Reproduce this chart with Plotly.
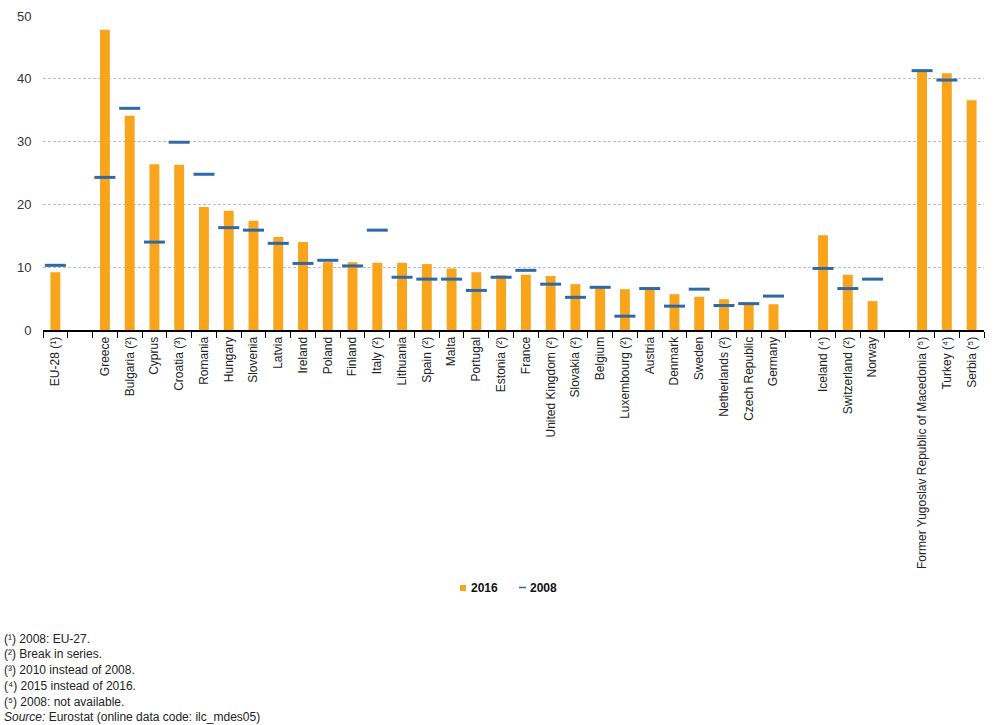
import plotly.graph_objects as go

countries = [
    "EU-28 (¹)", "Greece", "Bulgaria (²)", "Cyprus", "Croatia (³)", "Romania", "Hungary",
    "Slovenia", "Latvia", "Ireland", "Poland", "Finland", "Italy (²)", "Lithuania",
    "Spain (²)", "Malta", "Portugal", "Estonia (²)", "France", "United Kingdom (²)",
    "Slovakia (²)", "Belgium", "Luxembourg (²)", "Austria", "Denmark", "Sweden",
    "Netherlands (²)", "Czech Republic", "Germany", "Iceland (⁴)", "Switzerland (²)",
    "Norway", "Former Yugoslav Republic of Macedonia (⁵)", "Turkey (⁴)", "Serbia (⁵)",
]
values_2016 = [
    9.2, 47.8, 34.1, 26.4, 26.3, 19.6, 19.0,
    17.4, 14.8, 14.0, 10.8, 10.8, 10.7, 10.7,
    10.5, 9.8, 9.2, 8.7, 8.8, 8.6,
    7.3, 6.7, 6.5, 6.5, 5.7, 5.3,
    4.9, 4.1, 4.1, 15.1, 8.8,
    4.6, 41.2, 40.9, 36.6,
]
values_2008 = [
    10.3, 24.3, 35.3, 14.0, 29.9, 24.8, 16.3,
    15.9, 13.8, 10.6, 11.1, 10.2, 15.9, 8.4,
    8.1, 8.1, 6.3, 8.4, 9.5, 7.3,
    5.2, 6.8, 2.2, 6.6, 3.8, 6.5,
    3.9, 4.2, 5.4, 9.8, 6.6,
    8.1, 41.3, 39.8, None,
]
# category order with blank separator slots
gaps = ["_gap1", "_gap2", "_gap3"]
category_order = (
    countries[:1] + [gaps[0]] + countries[1:29] + [gaps[1]] + countries[29:32] + [gaps[2]] + countries[32:]
)
tick_labels = ["" if c in gaps else c for c in category_order]
y_ticks = [0, 10, 20, 30, 40, 50]
series_names = ["2016", "2008"]

FONT = "Liberation Sans, Arial, sans-serif"
BAR_COLOR = "#F9A51B"
LINE_COLOR = "#2F6AA7"

L, R, T, B = 43, 22, 16, 395
PW, PH = 1006 - L - R, 725 - T - B


def px_x(px):
    return (px - L) / PW


def px_y(py):
    return (725 - B - py) / PH


fig = go.Figure()
fig.add_trace(go.Bar(
    x=countries, y=values_2016, name=series_names[0],
    marker=dict(color=BAR_COLOR, line=dict(width=0)), width=0.4, showlegend=False,
))
fig.add_trace(go.Scatter(
    x=countries, y=values_2008, name=series_names[1], mode="markers", showlegend=False,
    marker=dict(symbol="line-ew", size=15, color=LINE_COLOR,
                line=dict(width=3, color=LINE_COLOR)),
))

fig.update_layout(
    width=1006, height=725,
    margin=dict(l=L, r=R, t=T, b=B, autoexpand=False),
    plot_bgcolor="white", paper_bgcolor="white",
    font=dict(family=FONT, size=12, color="#222222"),
    showlegend=False,
    bargap=0.6,
)
fig.update_xaxes(
    type="category", categoryorder="array", categoryarray=category_order,
    tickvals=category_order, ticktext=tick_labels,
    tickangle=-90, tickson="boundaries", ticks="outside", ticklen=6, tickcolor="#000000",
    showline=True, linecolor="#000000", linewidth=2, showgrid=False, automargin=False,
    tickfont=dict(size=12, color="#222222"), range=[-0.5, len(category_order) - 0.5],
)
fig.update_yaxes(
    range=[0, 50], tickvals=y_ticks, showgrid=True, gridcolor="#BDBDBD", griddash="3px,2px",
    gridwidth=1, zeroline=False, showline=False, ticks="outside", ticklen=8,
    tickcolor="rgba(0,0,0,0)", tickfont=dict(size=13, color="#333333"), automargin=False,
)

# legend (drawn manually to match compact layout)
fig.add_shape(type="rect", xref="paper", yref="paper",
              x0=px_x(460), x1=px_x(466), y0=px_y(585), y1=px_y(591),
              fillcolor=BAR_COLOR, line=dict(width=0))
fig.add_annotation(text="<b>%s</b>" % series_names[0], xref="paper", yref="paper",
                   x=px_x(469), y=px_y(588), xanchor="left", yanchor="middle",
                   showarrow=False, font=dict(size=12, color="#111111"))
fig.add_shape(type="line", xref="paper", yref="paper",
              x0=px_x(519), x1=px_x(526), y0=px_y(587.5), y1=px_y(587.5),
              line=dict(color=LINE_COLOR, width=1.5))
fig.add_annotation(text="<b>%s</b>" % series_names[1], xref="paper", yref="paper",
                   x=px_x(528), y=px_y(588), xanchor="left", yanchor="middle",
                   showarrow=False, font=dict(size=12, color="#111111"))

notes = [
    "(¹) 2008: EU-27.",
    "(²) Break in series.",
    "(³) 2010 instead of 2008.",
    "(⁴) 2015 instead of 2016.",
    "(⁵) 2008: not available.",
    "<i>Source:</i> Eurostat (online data code: ilc_mdes05)",
]
note_y = [639, 654, 670, 686, 702, 717]
for t, py in zip(notes, note_y):
    fig.add_annotation(
        text=t, xref="paper", yref="paper", x=px_x(2), y=px_y(py),
        xanchor="left", yanchor="middle", showarrow=False, align="left",
        font=dict(size=12, color="#222222"),
    )

fig.write_html(
    "out.html",
    config={"displayModeBar": False},
    post_script="document.body.style.margin='0';document.body.style.overflow='hidden';",
)
